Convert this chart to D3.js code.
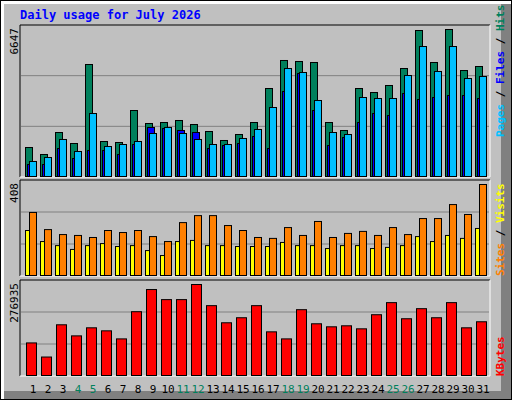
<!DOCTYPE html>
<html>
<head>
<meta charset="utf-8">
<script src="https://cdn.jsdelivr.net/npm/d3@7"></script>
<style>
  body { margin: 0; background: #fff; }
  text { font-family: "DejaVu Sans Mono", monospace; }
</style>
</head>
<body>
<svg id="chart" width="512" height="400"></svg>
<script>
const days = d3.range(1, 32);
const weekendDays = [4, 5, 11, 12, 18, 19, 25, 26];

const hits = [1347, 1033, 2021, 1527, 5075, 1617, 1572, 3009, 2425, 2470, 2560, 2380, 2066, 1662, 1931, 2470,
  3997, 5255, 5210, 5165, 2470, 2111, 3997, 3817, 4132, 4895, 6602, 5165, 6647, 4805, 4985];
const pages = [719, 898, 1707, 1168, 2874, 1392, 1482, 1617, 1976, 2246, 1976, 1707, 1482, 1482, 1752, 2156,
  3144, 4895, 4716, 3458, 2021, 1931, 3593, 3548, 3548, 4581, 5883, 4761, 5883, 4446, 4536];
const files = [584, 584, 1302, 853, 1213, 1213, 1033, 1482, 2246, 2201, 2111, 2021, 1302, 1437, 1527, 1841,
  1302, 3862, 4671, 3009, 1437, 1796, 2470, 2874, 2784, 3772, 3503, 3593, 3683, 3683, 3548];
const visits = [284, 208, 186, 182, 173, 204, 195, 204, 177, 155, 239, 270, 270, 226, 204, 173,
  169, 217, 182, 244, 173, 191, 200, 182, 217, 186, 257, 257, 319, 275, 408];
const sites = [204, 155, 137, 120, 137, 146, 133, 137, 115, 93, 155, 160, 137, 137, 133, 133,
  133, 151, 137, 137, 124, 137, 137, 124, 129, 137, 177, 155, 182, 169, 213];
const kbytes = [101070, 58620, 155650, 122290, 146550, 137460, 113200, 195060, 261770, 231450, 231450, 276935,
  213260, 161710, 176870, 213260, 134420, 113200, 201130, 158680, 149580, 152620, 143520, 185970,
  222350, 173840, 204160, 176870, 222350, 146550, 164740];

const svg = d3.select("#chart");

// frame with bevel
svg.append("rect").attr("width", 512).attr("height", 400).attr("fill", "#000");
svg.append("rect").attr("x", 1).attr("y", 1).attr("width", 510).attr("height", 398).attr("fill", "#fff");
svg.append("rect").attr("x", 4).attr("y", 4).attr("width", 507).attr("height", 395).attr("fill", "#808080");
svg.append("rect").attr("x", 4).attr("y", 4).attr("width", 497).attr("height", 387).attr("fill", "#c0c0c0");

svg.append("text")
  .attr("x", 20).attr("y", 19)
  .attr("fill", "#0000ff")
  .style("font-size", "12px").style("font-weight", "bold")
  .text("Daily usage for July 2026");

const x = d3.scaleBand().domain(days).range([23, 488]);

const panels = [
  { top: 25, bottom: 177, ymax: 29 },
  { top: 180, bottom: 276, ymax: 184 },
  { top: 280, bottom: 376, ymax: 284 }
];

function panel(p, maxVal) {
  svg.append("rect").attr("x", 20).attr("y", p.top).attr("width", 470).attr("height", p.bottom - p.top)
    .attr("fill", "#c0c0c0");
  const y = d3.scaleLinear().domain([0, maxVal]).range([p.bottom, p.ymax]);
  const h = p.bottom - p.top;
  [1 / 3, 2 / 3].forEach(f => {
    svg.append("line").attr("x1", 21).attr("x2", 489)
      .attr("y1", p.bottom - h * f).attr("y2", p.bottom - h * f)
      .attr("stroke", "#808080").attr("stroke-width", 1);
  });
  svg.append("path").attr("d", `M20,${p.bottom}V${p.top}H490`).attr("stroke", "#000").attr("fill", "none");
  svg.append("path").attr("d", `M490,${p.top}V${p.bottom}H20`).attr("stroke", "#fff").attr("fill", "none");
  svg.append("text")
    .attr("transform", `translate(18,${p.top + 3}) rotate(-90)`)
    .attr("text-anchor", "end")
    .style("font-size", "11px")
    .text(maxVal);
  return y;
}

function bars(data, y, p, dx, w, color) {
  svg.append("g").selectAll("rect").data(data).join("rect")
    .attr("x", (d, i) => x(days[i]) + dx + 0.5)
    .attr("y", d => y(d) + 0.5)
    .attr("width", w)
    .attr("height", d => p.bottom - y(d) - 1)
    .attr("fill", color)
    .attr("stroke", "#000").attr("stroke-width", 1);
}

const y1 = panel(panels[0], d3.max(hits));
bars(hits, y1, panels[0], 2, 7, "#00805c");
bars(files, y1, panels[0], 4, 7, "#0000ff");
bars(pages, y1, panels[0], 6, 7, "#00c0ff");

const y2 = panel(panels[1], d3.max(visits));
bars(sites, y2, panels[1], 2, 5, "#ffff00");
bars(visits, y2, panels[1], 6, 7, "#ff8000");

const y3 = panel(panels[2], d3.max(kbytes));
bars(kbytes, y3, panels[2], 3, 10, "#ff0000");

// right legends
function legend(parts, yBottom) {
  const t = svg.append("text")
    .attr("transform", `translate(504,${yBottom}) rotate(-90)`)
    .style("font-size", "11px").style("font-weight", "bold");
  parts.forEach(([s, c]) => t.append("tspan").attr("fill", c).text(s));
}
legend([["Pages", "#00c0ff"], [" / ", "#000"], ["Files", "#0000ff"], [" / ", "#000"], ["Hits", "#00805c"]], 137);
legend([["Sites", "#ff8000"], [" / ", "#000"], ["Visits", "#ffff00"]], 276);
legend([["KBytes", "#ff0000"]], 376);

// day labels
svg.append("g").selectAll("text").data(days).join("text")
  .attr("x", d => x(d) + 10)
  .attr("y", 393)
  .attr("text-anchor", "middle")
  .style("font-size", "11px")
  .attr("fill", d => weekendDays.includes(d) ? "#00805c" : "#000")
  .text(d => d);
</script>
</body>
</html>
